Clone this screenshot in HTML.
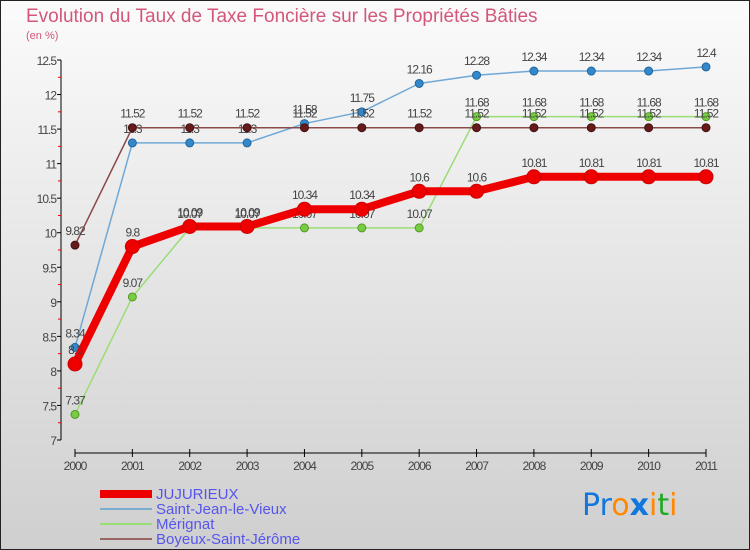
<!DOCTYPE html>
<html><head><meta charset="utf-8"><style>
body{margin:0;}
#c{width:750px;height:550px;position:relative;overflow:hidden;font-family:"Liberation Sans","DejaVu Sans",sans-serif;}
</style></head><body>
<div id="c">
<svg id="s" width="750" height="550" xmlns="http://www.w3.org/2000/svg">
<defs><linearGradient id="bg" x1="0" y1="0" x2="0" y2="1"><stop offset="0" stop-color="#fbfbfb"/><stop offset="1" stop-color="#cfcfcf"/></linearGradient></defs>
<rect x="0.5" y="0.5" width="749" height="549" fill="url(#bg)" stroke="#222"/>
<text x="26" y="22" font-size="19" fill="#d2577a">Evolution du Taux de Taxe Foncière sur les Propriétés Bâties</text>
<text x="26" y="39" font-size="11" fill="#d2577a">(en %)</text>
<g id="axes"></g>
<g id="series"></g>
<g id="legend">
<rect x="100" y="490" width="52" height="8" fill="#e00"/>
<text x="156" y="499" font-size="15" fill="#5555ee">JUJURIEUX</text>
<rect x="100" y="508" width="52" height="2" fill="#7aaed0"/>
<text x="156" y="514" font-size="15" fill="#5555ee">Saint-Jean-le-Vieux</text>
<rect x="100" y="523" width="52" height="2" fill="#99dd77"/>
<text x="156" y="529" font-size="15" fill="#5555ee">Mérignat</text>
<rect x="100" y="538" width="52" height="2" fill="#996666"/>
<text x="156" y="544" font-size="15" fill="#5555ee">Boyeux-Saint-Jérôme</text>
</g>
<g font-size="30" font-family="DejaVu Sans,sans-serif">
<text x="582" y="515"><tspan fill="#1177dd">Pr</tspan><tspan fill="#ff8800">o</tspan><tspan fill="#1177dd" font-weight="bold">x</tspan><tspan fill="#ff8800">i</tspan><tspan fill="#22aa22">t</tspan><tspan fill="#ff8800">i</tspan></text>
</g>
</svg>
</div>
<script>
const years=["2000","2001","2002","2003","2004","2005","2006","2007","2008","2009","2010","2011"];
const yTicks=[7,7.5,8,8.5,9,9.5,10,10.5,11,11.5,12,12.5];
const jujurieux=[8.1,9.8,10.09,10.09,10.34,10.34,10.6,10.6,10.81,10.81,10.81,10.81];
const saintJean=[8.34,11.3,11.3,11.3,11.58,11.75,12.16,12.28,12.34,12.34,12.34,12.4];
const merignat=[7.37,9.07,10.07,10.07,10.07,10.07,10.07,11.68,11.68,11.68,11.68,11.68];
const boyeux=[9.82,11.52,11.52,11.52,11.52,11.52,11.52,11.52,11.52,11.52,11.52,11.52];
const NS="http://www.w3.org/2000/svg";
const X=i=>75+i*(706-75)/(years.length-1);
const Y=v=>60+(12.5-v)*(380/5.5);
function mk(tag,at,parent){const e=document.createElementNS(NS,tag);for(const k in at)e.setAttribute(k,at[k]);parent.appendChild(e);return e;}
const ax=document.getElementById('axes');
let yl=mk('line',{x1:61,y1:60,x2:61,y2:440,stroke:'#000'},ax);


let xl=mk('line',{x1:75,y1:453,x2:706,y2:453,stroke:'#000'},ax);


yTicks.forEach((v,i)=>{
  mk('line',{x1:57,y1:Y(v),x2:61,y2:Y(v),stroke:'#000'},ax);
  if(i<yTicks.length-1){mk('line',{x1:58,y1:Y(v+0.25),x2:61,y2:Y(v+0.25),stroke:'#e00'},ax);}
  const t=mk('text',{x:56,y:Y(v)+5,'text-anchor':'end','font-size':12,fill:'#444','letter-spacing':'-1'},ax);
  t.textContent=String(v);
  
  
});
years.forEach((y,i)=>{
  mk('line',{x1:X(i),y1:449,x2:X(i),y2:457,stroke:'#000'},ax);
  const t=mk('text',{x:X(i),y:470,'text-anchor':'middle','font-size':12,fill:'#444','letter-spacing':'-1'},ax);
  t.textContent=y;
  
  
});
const sg=document.getElementById('series');
function draw(vals,name,color,w,r,dot,stroke){
  const g=mk('g',{},sg);
  
  
  const p=mk('polyline',{points:vals.map((v,i)=>X(i)+','+Y(v)).join(' '),fill:'none',stroke:color,'stroke-width':w,'stroke-linejoin':'round'},g);
  
  
  vals.forEach((v,i)=>{
    const c=mk('circle',{cx:X(i),cy:Y(v),r:r,fill:dot,stroke:stroke,'stroke-width':1},g);
    
    
    const t=mk('text',{x:X(i),y:Y(v)-10,'text-anchor':'middle','font-size':12,fill:'#444','letter-spacing':'-1'},g);
    t.textContent=String(v);
    
    
  });
}
draw(merignat,'merignat','#99dd77',1.5,4,'#77cc44','#559922');
draw(saintJean,'saint-jean','#6fa8d6',1.5,4,'#3388cc','#226699');
draw(boyeux,'boyeux','#8a4a4a',1.5,4,'#661a1a','#441111');
draw(jujurieux,'jujurieux','#ee0000',8,7,'#ee0000','#cc0000');
</script>
</body></html>
